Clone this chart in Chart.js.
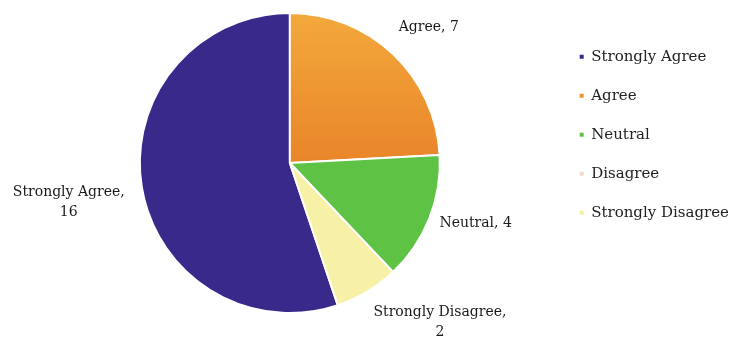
<!DOCTYPE html>
<html><head><meta charset="utf-8">
<script src="https://cdn.jsdelivr.net/npm/chart.js@4"></script>
<style>html,body{margin:0;padding:0;background:#fff}#w{width:739px;height:344px}</style>
</head><body><div id="w"><canvas id="c"></canvas></div>
<script>
const categories = ["Strongly Agree", "Agree", "Neutral", "Disagree", "Strongly Disagree"];
const counts = [16, 7, 4, 0, 2];
const colors = ["#38298a", "#ee9330", "#5ec245", "#f3d9c9", "#f6f1a6"];

const total = counts.reduce((a, b) => a + b, 0);
const startRotation = 360 - counts[0] / total * 360;
const FONT = '"DejaVu Serif", "Liberation Serif", serif';

function sliceFill(context) {
  const i = context.dataIndex;
  const chart = context.chart;
  const area = chart.chartArea;
  if (i === 1 && area) {
    const g = chart.ctx.createLinearGradient(0, area.top, 0, (area.top + area.bottom) / 2);
    g.addColorStop(0, '#f3a93c');
    g.addColorStop(1, '#e9852a');
    return g;
  }
  return colors[i];
}

const labelPlugin = {
  id: 'sliceLabels',
  afterDatasetsDraw(chart) {
    const ctx = chart.ctx;
    const meta = chart.getDatasetMeta(0);
    const dist = [1.48, 1.25, 1.24, 0, 1.45];
    const shift = [[-2,3],[10,0],[13,-8],[0,0],[38,-27]];
    ctx.save();
    ctx.fillStyle = '#1a1a1a';
    ctx.font = '14px ' + FONT;
    ctx.textAlign = 'center';
    ctx.textBaseline = 'middle';
    meta.data.forEach((arc, i) => {
      if (!counts[i]) return;
      const mid = (arc.startAngle + arc.endAngle) / 2;
      const r = arc.outerRadius * dist[i];
      const x = arc.x + Math.cos(mid) * r + shift[i][0];
      const y = arc.y + Math.sin(mid) * r + shift[i][1];
      const name = categories[i];
      if (name.startsWith('Strongly')) {
        ctx.fillText(name + ',', x, y - 10);
        ctx.fillText(String(counts[i]), x, y + 10);
      } else {
        ctx.fillText(name + ', ' + counts[i], x, y);
      }
    });
    ctx.restore();
  }
};

new Chart(document.getElementById('c'), {
  type: 'pie',
  data: {
    labels: categories,
    datasets: [{
      data: counts,
      backgroundColor: sliceFill,
      borderColor: '#ffffff',
      borderWidth: 2
    }]
  },
  options: {
    responsive: true,
    maintainAspectRatio: false,
    animation: false,
    rotation: startRotation,
    layout: { padding: { top: 12, bottom: 30, left: 24, right: 0 } },
    plugins: {
      tooltip: { enabled: false },
      legend: {
        position: 'right',
        align: 'start',
        title: { display: true, text: ' ', font: { size: 1 }, padding: 6 },
        labels: {
          usePointStyle: true,
          pointStyle: 'rect',
          boxWidth: 4,
          boxHeight: 4,
          padding: 24,
          color: '#222',
          font: { family: FONT, size: 15 },
          generateLabels(chart) {
            return categories.map((c, i) => ({
              text: c,
              fillStyle: colors[i],
              strokeStyle: colors[i],
              fontColor: '#222',
              lineWidth: 0,
              pointStyle: 'rect',
              hidden: false,
              index: i
            }));
          }
        }
      }
    }
  },
  plugins: [labelPlugin]
});
</script>
</body></html>
